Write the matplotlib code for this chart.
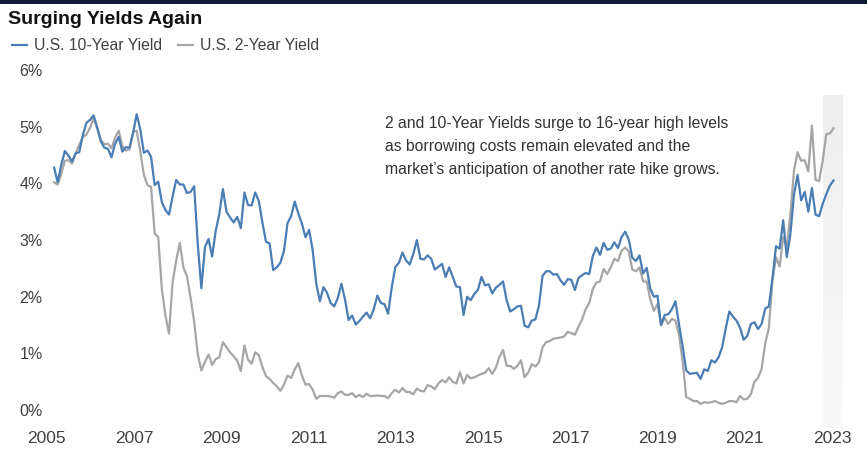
import matplotlib
matplotlib.use('Agg')
import matplotlib.pyplot as plt
import numpy as np
from matplotlib.patches import Rectangle
from matplotlib.lines import Line2D

plt.rcParams['font.family'] = ['Liberation Sans', 'DejaVu Sans']

# monthly values, Jul 2005 .. Aug 2023 (percent)
start_year = 2005
start_month = 7

y10 = [4.28, 4.02, 4.33, 4.57, 4.49, 4.39,
       4.53, 4.55, 4.85, 5.07, 5.12, 5.20, 4.99, 4.74, 4.63, 4.61, 4.46, 4.70,
       4.82, 4.56, 4.64, 4.63, 4.89, 5.22, 4.95, 4.54, 4.58, 4.47, 3.97, 4.03,
       3.67, 3.53, 3.45, 3.77, 4.06, 3.98, 3.98, 3.83, 3.85, 3.95, 2.93, 2.15,
       2.87, 3.02, 2.71, 3.16, 3.46, 3.90, 3.50, 3.40, 3.31, 3.41, 3.21, 3.84,
       3.62, 3.61, 3.84, 3.69, 3.31, 2.97, 2.94, 2.47, 2.52, 2.60, 2.81, 3.30,
       3.42, 3.68, 3.47, 3.29, 3.05, 3.18, 2.82, 2.23, 1.92, 2.17, 2.07, 1.89,
       1.83, 1.98, 2.23, 1.95, 1.59, 1.67, 1.51, 1.57, 1.65, 1.72, 1.62, 1.78,
       2.02, 1.89, 1.87, 1.70, 2.16, 2.52, 2.60, 2.78, 2.64, 2.57, 2.75, 3.00,
       2.67, 2.66, 2.73, 2.67, 2.48, 2.53, 2.58, 2.35, 2.52, 2.35, 2.18, 2.17,
       1.68, 2.00, 1.94, 2.05, 2.12, 2.35, 2.20, 2.22, 2.06, 2.16, 2.21, 2.27,
       1.94, 1.74, 1.78, 1.83, 1.84, 1.49, 1.46, 1.58, 1.60, 1.84, 2.37, 2.45,
       2.45, 2.39, 2.40, 2.29, 2.21, 2.31, 2.30, 2.12, 2.33, 2.38, 2.42, 2.40,
       2.72, 2.87, 2.74, 2.95, 2.83, 2.85, 2.96, 2.86, 3.05, 3.15, 3.01, 2.69,
       2.63, 2.73, 2.41, 2.51, 2.14, 2.00, 2.02, 1.50, 1.68, 1.69, 1.78, 1.92,
       1.51, 1.13, 0.70, 0.64, 0.65, 0.66, 0.55, 0.72, 0.69, 0.88, 0.84, 0.93,
       1.11, 1.44, 1.74, 1.65, 1.58, 1.45, 1.24, 1.31, 1.52, 1.55, 1.43, 1.52,
       1.79, 1.83, 2.32, 2.89, 2.85, 3.35, 2.70, 3.10, 3.80, 4.15, 3.70, 3.85,
       3.50, 3.92, 3.45, 3.42, 3.64, 3.81, 3.96, 4.05]

y2 = [4.02, 3.98, 4.17, 4.40, 4.41, 4.35,
      4.53, 4.68, 4.82, 4.86, 4.98, 5.15, 4.97, 4.77, 4.69, 4.70, 4.62, 4.81,
      4.93, 4.66, 4.58, 4.60, 4.91, 4.93, 4.56, 4.15, 3.97, 3.94, 3.12, 3.05,
      2.14, 1.67, 1.35, 2.26, 2.64, 2.95, 2.52, 2.36, 1.98, 1.56, 0.99, 0.70,
      0.85, 0.98, 0.80, 0.90, 0.93, 1.20, 1.11, 1.02, 0.95, 0.87, 0.69, 1.14,
      0.89, 0.82, 1.02, 0.97, 0.76, 0.60, 0.55, 0.48, 0.42, 0.34, 0.45, 0.61,
      0.57, 0.72, 0.83, 0.61, 0.45, 0.46, 0.36, 0.20, 0.25, 0.25, 0.25, 0.24,
      0.22, 0.30, 0.33, 0.27, 0.27, 0.30, 0.23, 0.27, 0.23, 0.29, 0.25, 0.25,
      0.26, 0.25, 0.25, 0.21, 0.30, 0.36, 0.31, 0.39, 0.32, 0.32, 0.28, 0.38,
      0.34, 0.33, 0.44, 0.42, 0.37, 0.47, 0.53, 0.49, 0.58, 0.50, 0.47, 0.67,
      0.47, 0.62, 0.56, 0.58, 0.61, 0.64, 0.66, 0.74, 0.64, 0.75, 0.94, 1.06,
      0.78, 0.78, 0.73, 0.78, 0.88, 0.58, 0.66, 0.81, 0.77, 0.84, 1.11, 1.20,
      1.22, 1.26, 1.27, 1.28, 1.30, 1.38, 1.36, 1.33, 1.47, 1.60, 1.78, 1.89,
      2.14, 2.25, 2.27, 2.49, 2.40, 2.52, 2.67, 2.63, 2.81, 2.87, 2.80, 2.48,
      2.45, 2.52, 2.27, 2.27, 1.95, 1.75, 1.87, 1.50, 1.63, 1.52, 1.61, 1.58,
      1.33, 0.86, 0.23, 0.20, 0.16, 0.16, 0.11, 0.14, 0.13, 0.14, 0.16, 0.13,
      0.11, 0.13, 0.16, 0.16, 0.14, 0.25, 0.19, 0.20, 0.28, 0.50, 0.57, 0.73,
      1.18, 1.44, 2.28, 2.70, 2.53, 3.05, 2.89, 3.45, 4.22, 4.55, 4.40, 4.41,
      4.21, 5.02, 4.06, 4.04, 4.40, 4.87, 4.88, 4.97]

year_labels = ['2005', '2007', '2009', '2011', '2013', '2015', '2017', '2019', '2021', '2023']
note = ("2 and 10-Year Yields surge to 16-year high levels\n"
        "as borrowing costs remain elevated and the\n"
        "market\u2019s anticipation of another rate hike grows.")

# decimal year of each month
t = start_year + (start_month - 1 + np.arange(len(y10))) / 12.0

blue = '#4a7db3'
grey = '#a6a6a6'
txt = '#404040'

fig = plt.figure(figsize=(8.67, 4.54), dpi=100)
ax = fig.add_axes([0.0507, 0.0529, 0.9296, 0.7929])

# light shaded band at the end
grad = np.linspace(0.975, 0.93, 50).reshape(-1, 1)
ax.imshow(grad, cmap='gray', vmin=0, vmax=1, aspect='auto',
          extent=[2023.34, 2023.80, 5.55, -0.32], zorder=0)

ax.plot(t, y2, color=grey, lw=1.6, label='U.S. 2-Year Yield', zorder=2)
ax.plot(t, y10, color=blue, lw=1.6, label='U.S. 10-Year Yield', zorder=3)

ax.set_xlim(2005.265, 2023.965)
ax.set_ylim(-0.35, 6.0)

ax.set_yticks(range(0, 7))
ax.set_yticklabels([f'{v}%' for v in range(0, 7)])
ax.set_xticks(np.linspace(2005.33, 2023.55, len(year_labels)))
ax.set_xticklabels(year_labels, fontfamily=['Liberation Sans Narrow', 'Liberation Sans'])
ax.tick_params(axis='y', length=0, pad=1, labelsize=11.5, labelcolor=txt)
ax.tick_params(axis='x', length=0, pad=1, labelsize=12.5, labelcolor=txt)
for s in ax.spines.values():
    s.set_visible(False)

# top bar
fig.add_artist(Rectangle((0, 1 - 4 / 454), 1, 4 / 454, transform=fig.transFigure,
                         color='#0e1a36', lw=0))

fig.text(8 / 867, 1 - 20 / 454, 'Surging Yields Again', fontsize=14, fontweight='bold',
         color='#111111', va='center', ha='left')

handles = [Line2D([], [], color=blue, lw=1.6), Line2D([], [], color=grey, lw=1.6)]
leg = fig.legend(handles, ['U.S. 10-Year Yield', 'U.S. 2-Year Yield'], ncol=2,
                 loc='center left', bbox_to_anchor=(12 / 867, 1 - 46 / 454),
                 frameon=False, fontsize=11.3, handlelength=0.95, handletextpad=0.45,
                 columnspacing=1.0, borderaxespad=0, borderpad=0)
for tx in leg.get_texts():
    tx.set_color(txt)

fig.text(385 / 867, 1 - 116 / 454, note, fontsize=11.3, color='#333333',
         va='top', ha='left', linespacing=1.65)

plt.savefig('out.png', dpi=100)
